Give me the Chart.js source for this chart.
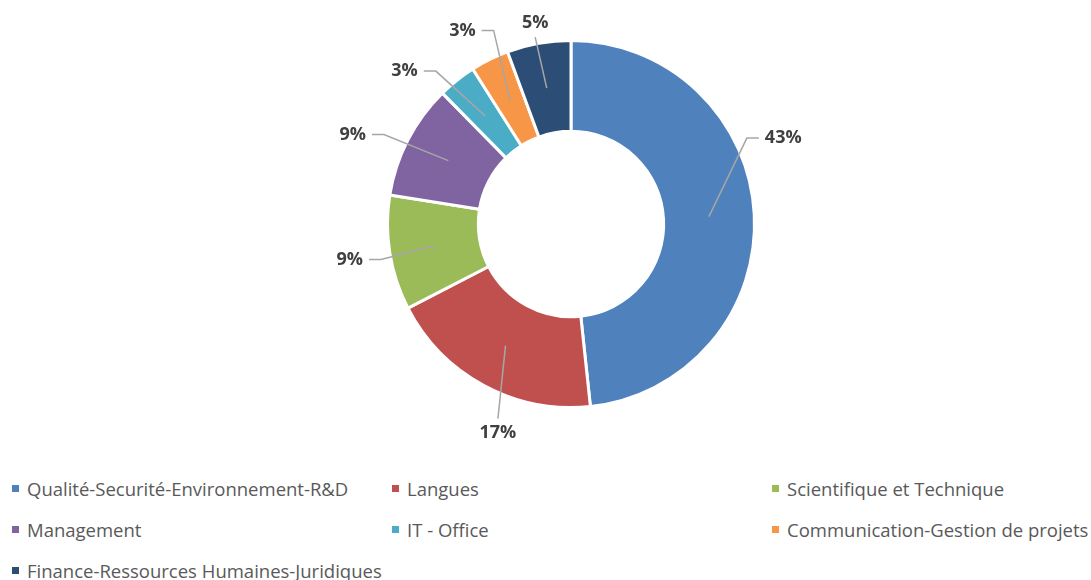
<!DOCTYPE html>
<html>
<head>
<meta charset="utf-8">
<script src="https://cdn.jsdelivr.net/npm/chart.js@4"></script>
<style>
    body { margin: 0; background: #fff; }
    .wrap { position: relative; width: 1091px; height: 580px; }
    #chart { position: absolute; left: 0; top: 0; }
    .legend {
        position: absolute; left: 12px; top: 476px;
        display: grid; grid-template-columns: 380px 380px 320px;
        grid-auto-rows: 41px;
        font-family: "Open Sans", sans-serif; font-size: 18.5px; color: #595959;
    }
    .legend div { display: flex; align-items: center; white-space: nowrap; height: 24px; }
    .legend span.box { width: 7px; height: 7px; margin-right: 8px; flex: none; }
</style>
</head>
<body>
<div class="wrap">
    <canvas id="chart" width="1091" height="470"></canvas>
    <div class="legend" id="legend"></div>
</div>
<script>
// Training categories and their share (%)
const categories = [
    'Qualité-Securité-Environnement-R&D',
    'Langues',
    'Scientifique et Technique',
    'Management',
    'IT - Office',
    'Communication-Gestion de projets',
    'Finance-Ressources Humaines-Juridiques'
];
const shares = [43, 17, 9, 9, 3, 3, 5];
const colors = ['#4F81BD', '#C0504D', '#9BBB59', '#8064A2', '#4BACC6', '#F79646', '#2C4D75'];

// label placement: angle nudge (deg) from slice middle, distance from centre
const labelNudge = [-19, -9, 0, -5, -9, -3, 0];
const labelDist = [229, 221, 224, 236, 226, 222, 204];

const deg = Math.PI / 180;

// data labels with leader lines, Excel style
const leaderLabels = {
    id: 'leaderLabels',
    afterDatasetsDraw (chart) {
        const ctx = chart.ctx;
        const meta = chart.getDatasetMeta(0);
        ctx.save();
        ctx.font = 'bold 18px "Open Sans"';
        ctx.textAlign = 'center';
        ctx.textBaseline = 'middle';
        meta.data.forEach((arc, i) => {
            const mid = (arc.startAngle + arc.endAngle) / 2;
            const a = mid + labelNudge[i] * deg;
            const lx = arc.x + labelDist[i] * Math.cos(a);
            const ly = arc.y + labelDist[i] * Math.sin(a);
            const rIn = (arc.innerRadius + arc.outerRadius) / 2;
            const px = arc.x + rIn * Math.cos(mid);
            const py = arc.y + rIn * Math.sin(mid);
            const text = shares[i] + '%';
            const w = ctx.measureText(text).width;

            ctx.strokeStyle = '#A6A6A6';
            ctx.lineWidth = 1.5;
            ctx.beginPath();
            if (Math.abs(Math.cos(a)) < 0.4) {
                // above or below: connect from the label's edge
                const sy = ly < arc.y ? ly + 14 : ly - 14;
                ctx.moveTo(lx, sy);
                ctx.lineTo(px, py);
            } else {
                // side: short horizontal elbow
                const side = lx > arc.x ? -1 : 1;
                const sx = lx + side * (w / 2 + 6);
                const ex = sx + side * 12;
                ctx.moveTo(sx, ly);
                ctx.lineTo(ex, ly);
                ctx.lineTo(px, py);
            }
            ctx.stroke();

            ctx.fillStyle = '#404040';
            ctx.fillText(text, lx, ly);
        });
        ctx.restore();
    }
};

new Chart(document.getElementById('chart'), {
    type: 'doughnut',
    data: {
        labels: categories,
        datasets: [{
            data: shares,
            backgroundColor: colors,
            borderColor: '#ffffff',
            borderWidth: 3
        }]
    },
    options: {
        responsive: false,
        animation: false,
        cutout: '50.5%',
        layout: { padding: { top: 39, bottom: 61, left: 51, right: 0 } },
        plugins: {
            legend: { display: false },
            tooltip: { enabled: false }
        }
    },
    plugins: [leaderLabels]
});

// legend below the chart, three columns
const $legend = document.getElementById('legend');
categories.forEach((name, i) => {
    const item = document.createElement('div');
    item.innerHTML = `<span class="box" style="background:${colors[i]}"></span>${name}`;
    $legend.appendChild(item);
});
</script>
</body>
</html>
